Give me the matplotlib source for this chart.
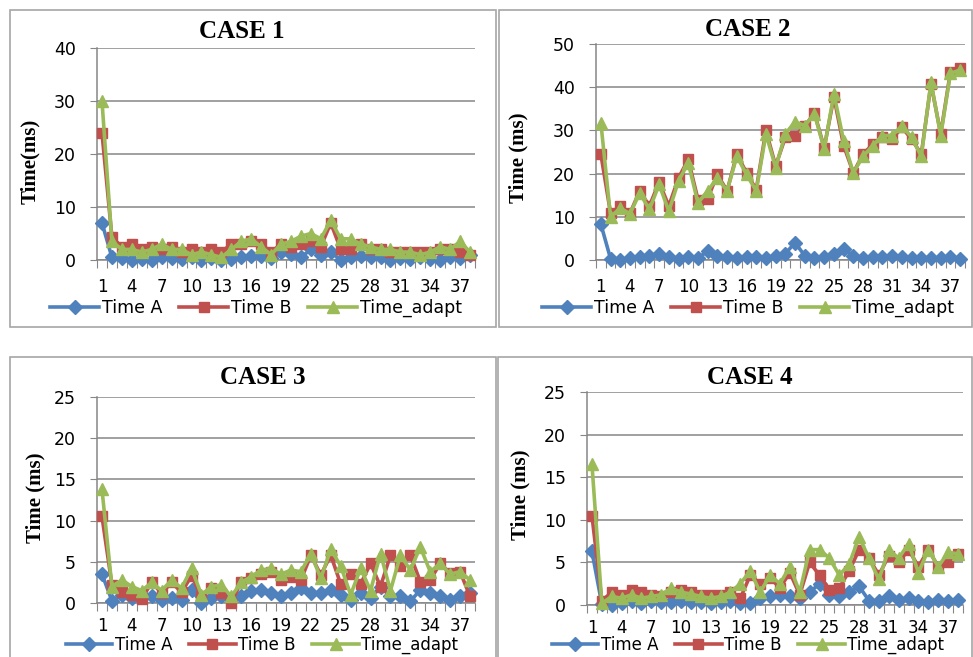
# Four execution-time panels (CASE 1..4), Excel-style line charts
import numpy as np
import matplotlib.pyplot as plt
from matplotlib.patches import Rectangle

W, H = 973, 657

# x categories (runs 1..38)
runs = list(range(1, 39))

# CASE 1
case1_a = [7.0, 0.5, 0.3, 0.0, 0.2, 0.0, 0.5, 0.3, 0.2, 0.5, 0.0, 0.3, 0.0, 0.2, 0.5, 0.8, 0.8, 0.3, 1.5,
           1.2, 0.5, 2.0, 1.0, 1.5, 0.0, 0.5, 0.8, 0.5, 0.5, 0.0, 0.3, 0.2, 0.5, 0.2, 0.0, 0.5, 0.3, 1.0]
case1_b = [24.0, 4.3, 2.5, 3.0, 2.0, 2.5, 2.0, 2.5, 1.5, 2.0, 1.5, 2.0, 1.5, 3.0, 3.0, 3.5, 3.0, 1.5, 3.0,
           2.5, 3.0, 3.5, 2.5, 7.0, 2.0, 2.0, 3.0, 2.0, 2.0, 1.5, 1.5, 1.5, 1.5, 1.5, 2.0, 2.0, 1.5, 1.0]
case1_adapt = [30.0, 3.5, 2.0, 2.0, 1.5, 2.0, 3.0, 2.0, 2.0, 1.0, 1.5, 1.0, 0.5, 2.0, 3.5, 4.0, 2.5, 1.0, 3.0,
               3.5, 4.5, 5.0, 4.0, 7.5, 4.0, 4.0, 3.0, 2.5, 2.0, 2.0, 1.5, 1.5, 1.0, 1.5, 2.5, 2.0, 3.5, 1.5]

# CASE 2
case2_a = [8.3, 0.3, 0.0, 0.5, 0.8, 1.0, 1.3, 0.8, 0.2, 0.6, 0.5, 2.0, 1.0, 0.8, 0.5, 0.8, 0.6, 0.5, 1.0,
           1.5, 4.0, 1.0, 0.5, 0.8, 1.5, 2.5, 1.0, 0.5, 0.8, 0.7, 1.0, 0.8, 0.5, 0.5, 0.4, 0.5, 0.6, 0.3]
case2_b = [24.5, 10.8, 12.5, 10.8, 16.0, 12.5, 18.0, 12.5, 19.0, 23.3, 14.0, 14.2, 19.8, 16.0, 24.5, 20.2,
           16.3, 30.0, 21.8, 28.4, 28.8, 31.0, 34.0, 26.0, 37.7, 26.5, 20.2, 24.5, 26.8, 28.4, 28.0, 30.7,
           28.0, 24.5, 40.8, 29.2, 43.6, 44.4]
case2_adapt = [31.8, 10.0, 12.0, 10.7, 15.5, 11.7, 17.5, 11.3, 18.3, 22.5, 13.2, 16.0, 19.0, 16.0, 24.0, 19.8,
               16.0, 29.2, 21.4, 29.2, 32.0, 31.1, 33.8, 25.7, 38.5, 27.6, 20.2, 24.0, 26.5, 28.8, 28.8, 31.1,
               28.4, 24.0, 41.2, 28.8, 43.2, 44.0]

# CASE 3
case3_a = [3.5, 0.3, 1.0, 0.6, 1.0, 0.8, 0.4, 0.6, 0.4, 1.6, 0.0, 0.6, 0.8, 0.4, 0.8, 1.4, 1.6, 1.2, 0.8,
           1.2, 1.8, 1.2, 1.2, 1.6, 1.0, 0.4, 1.2, 0.6, 2.0, 0.8, 0.8, 0.2, 1.6, 1.2, 0.8, 0.4, 0.8, 1.2]
case3_b = [10.5, 2.2, 1.3, 1.0, 0.5, 2.5, 1.2, 2.5, 1.3, 3.3, 0.8, 1.8, 1.2, 0.0, 2.6, 3.0, 3.5, 3.8, 2.8,
           3.2, 2.8, 5.8, 3.4, 5.8, 2.3, 3.5, 2.3, 4.8, 2.0, 5.8, 4.5, 5.8, 2.6, 2.8, 4.8, 3.6, 3.8, 0.8]
case3_adapt = [13.8, 2.0, 2.8, 2.0, 1.5, 2.5, 1.5, 2.8, 1.8, 4.2, 1.0, 2.0, 2.2, 0.8, 2.5, 3.2, 4.0, 4.2, 3.5,
               4.0, 3.8, 6.0, 3.0, 6.5, 4.5, 1.0, 4.2, 1.5, 6.0, 1.5, 5.8, 4.0, 6.8, 3.8, 4.8, 3.5, 3.8, 2.8]

# CASE 4
case4_a = [6.3, 0.1, 0.0, 0.2, 0.5, 0.2, 0.5, 0.3, 0.3, 0.5, 0.3, 0.4, 0.2, 0.3, 0.5, 0.2, 0.2, 0.8, 1.0,
           1.2, 1.0, 0.8, 1.5, 2.5, 1.2, 1.0, 1.5, 2.2, 0.5, 0.5, 1.0, 0.6, 0.8, 0.5, 0.4, 0.6, 0.5, 0.6]
case4_b = [10.5, 0.5, 1.5, 1.2, 1.8, 1.5, 1.2, 1.0, 1.5, 1.8, 1.5, 1.2, 1.2, 1.2, 1.5, 0.8, 3.5, 2.5, 3.2,
           2.0, 3.8, 1.2, 5.0, 3.5, 1.8, 2.0, 4.0, 6.5, 5.5, 3.5, 5.8, 5.0, 6.5, 4.5, 6.5, 4.5, 5.0, 6.0]
case4_adapt = [16.5, 0.2, 1.0, 0.8, 1.2, 0.8, 1.0, 1.2, 2.0, 1.5, 1.3, 1.0, 0.8, 1.0, 1.5, 2.5, 4.0, 1.5, 3.5,
               2.5, 4.5, 1.5, 6.5, 6.5, 5.5, 3.5, 4.8, 8.0, 5.5, 3.0, 6.5, 5.5, 7.2, 3.8, 6.5, 4.5, 6.2, 6.0]

series_names = ['Time A', 'Time B', 'Time_adapt']
titles = ['CASE 1', 'CASE 2', 'CASE 3', 'CASE 4']
ylabels = ['Time(ms)', 'Time (ms)', 'Time (ms)', 'Time (ms)']
ymax = [40, 50, 25, 25]
ystep = [10, 10, 5, 5]

colors = ['#4F81BD', '#C0504D', '#9BBB59']
markers = ['D', 's', '^']
msizes = [7, 7.5, 8.5]
grid_col = '#868686'

# layout in pixels: plot box (l, t, r, b), title pos, ylabel pos, legend center, panel frame
boxes = [(97, 48, 475, 260), (596, 44, 965, 260), (97, 397, 475, 603), (587, 392, 963, 605)]
title_pos = [(242, 31), (748, 29), (263, 377), (750, 377)]
ylab_pos = [(30, 161), (518, 158), (35, 498), (520, 495)]
leg_pos = [(256, 308), (748, 308), (262, 645), (748, 645)]
leg_size = [12.5, 12.5, 12, 12]
xpad = [13, 13, 10, 10]
frames = [(10, 10, 496, 327), (499, 10, 972, 327), (10, 357, 496, 660), (498, 357, 972, 660)]

fig = plt.figure(figsize=(W / 100, H / 100), dpi=100)

for f in frames:
    l, t, r, b = f
    fig.add_artist(Rectangle((l / W, 1 - b / H), (r - l) / W, (b - t) / H, transform=fig.transFigure,
                             fill=False, edgecolor='#A6A6A6', lw=1.2))

data = [(case1_a, case1_b, case1_adapt), (case2_a, case2_b, case2_adapt),
        (case3_a, case3_b, case3_adapt), (case4_a, case4_b, case4_adapt)]

for k in range(4):
    l, t, r, b = boxes[k]
    ax = fig.add_axes([l / W, 1 - b / H, (r - l) / W, (b - t) / H])
    for s in range(3):
        ax.plot(runs, data[k][s], color=colors[s], marker=markers[s], ms=msizes[s], lw=2.6,
                label=series_names[s], clip_on=False, zorder=3 + s)
    ax.set_xlim(0.5, 38.5)
    ax.set_ylim(0, ymax[k])
    ax.set_yticks(np.arange(0, ymax[k] + 1, ystep[k]))
    ax.yaxis.grid(True, color=grid_col, lw=1.1)
    ax.set_axisbelow(True)
    for sp in ['top', 'right']:
        ax.spines[sp].set_visible(False)
    for sp in ['left', 'bottom']:
        ax.spines[sp].set_color(grid_col)
        ax.spines[sp].set_linewidth(1.1)
    ax.set_xticks(np.arange(0.5, 39, 1))
    ax.set_xticklabels([])
    ax.set_xticks(runs[::3], minor=True)
    ax.set_xticklabels([str(v) for v in runs[::3]], minor=True)
    ax.tick_params(axis='x', which='major', length=6, color=grid_col, direction='out')
    ax.tick_params(axis='x', which='minor', length=0, pad=xpad[k], labelsize=12)
    ax.tick_params(axis='y', length=5, color=grid_col, pad=10, labelsize=12.5)

    fig.text(title_pos[k][0] / W, 1 - title_pos[k][1] / H, titles[k], ha='center', va='center',
             family='Liberation Serif', weight='bold', fontsize=18)
    fig.text(ylab_pos[k][0] / W, 1 - ylab_pos[k][1] / H, ylabels[k], ha='center', va='center',
             rotation=90, family='Liberation Serif', weight='bold', fontsize=15)
    ax.legend(loc='center', bbox_to_anchor=(leg_pos[k][0] / W, 1 - leg_pos[k][1] / H),
              bbox_transform=fig.transFigure, ncol=3, frameon=False, fontsize=leg_size[k],
              handlelength=2.8, handletextpad=0.15, columnspacing=1.0, borderpad=0)

fig.savefig('out.png', dpi=100)
